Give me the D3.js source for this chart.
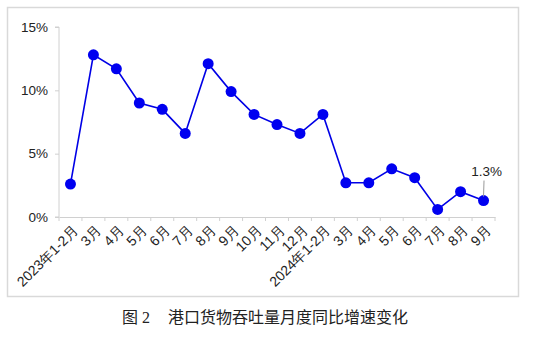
<!DOCTYPE html>
<meta charset="utf-8">
<style>
body { margin: 0; background: #fff; }
svg { display: block; font-family: "Liberation Sans", Arial, sans-serif; }
.axis path, .axis line { stroke: #d0d0d0; }
.axis text { fill: #222; font-size: 13.5px; }
.axis--x text { font-size: 14px; }
.line { fill: none; stroke: #0000e6; stroke-width: 1.6px; }
</style>
<svg width="558" height="347"></svg>
<script src="https://cdn.jsdelivr.net/npm/d3@7"></script>
<script>

var months = ["2023年1-2月", "3月", "4月", "5月", "6月", "7月", "8月", "9月", "10月", "11月", "12月",
              "2024年1-2月", "3月", "4月", "5月", "6月", "7月", "8月", "9月"];
var growth = [2.6, 12.8, 11.7, 9.0, 8.5, 6.6, 12.1, 9.9, 8.1, 7.3, 6.6,
              8.1, 2.7, 2.7, 3.8, 3.1, 0.6, 2.0, 1.3];
var yTicks = [0, 5, 10, 15];
var title = "港口货物吞吐量月度同比增速变化";

var svg = d3.select("svg"),
    margin = {top: 27, right: 63, bottom: 130, left: 59},
    width = 495 - margin.left,
    height = 217 - margin.top,
    g = svg.append("g").attr("transform", "translate(" + margin.left + "," + margin.top + ")");

// outer frame
svg.append("rect")
    .attr("x", 7.5).attr("y", 7.5)
    .attr("width", 511).attr("height", 289)
    .attr("fill", "none")
    .attr("stroke", "#d9d9d9")
    .attr("stroke-width", 1.5);

var data = months.map(function(m, i) { return {key: i, label: m, value: growth[i]}; });

var x = d3.scaleBand().domain(data.map(function(d) { return d.key; })).range([0, width]),
    y = d3.scaleLinear().domain([0, 15]).range([height, 0]);

var xAxis = g.append("g")
    .attr("class", "axis axis--x")
    .attr("transform", "translate(0," + height + ")")
    .call(d3.axisBottom(x).tickSize(0).tickFormat(""));

// tick marks on category boundaries
xAxis.selectAll(".bound")
  .data(d3.range(months.length + 1))
  .enter().append("line")
    .attr("class", "bound")
    .attr("x1", function(i) { return i * x.step(); })
    .attr("x2", function(i) { return i * x.step(); })
    .attr("y1", 0).attr("y2", 4);

xAxis.selectAll(".lab")
  .data(data)
  .enter().append("text")
    .attr("class", "lab")
    .attr("text-anchor", "end")
    .attr("transform", function(d) {
      return "translate(" + (x(d.key) + x.bandwidth() / 2 + 5) + ",11) rotate(-45)";
    })
    .attr("dy", "0.35em")
    .text(function(d) { return d.label; });

g.append("g")
    .attr("class", "axis axis--y")
    .call(d3.axisLeft(y).tickValues(yTicks).tickSize(4).tickPadding(7)
      .tickFormat(function(d) { return d + "%"; }))
  .select(".domain").attr("d", "M-4," + height + "H0V0H-4");

var line = d3.line()
    .x(function(d) { return x(d.key) + x.bandwidth() / 2; })
    .y(function(d) { return y(d.value); });

g.append("path")
    .datum(data)
    .attr("class", "line")
    .attr("d", line);

g.selectAll(".dot")
  .data(data)
  .enter().append("circle")
    .attr("class", "dot")
    .attr("cx", function(d) { return x(d.key) + x.bandwidth() / 2; })
    .attr("cy", function(d) { return y(d.value); })
    .attr("r", 5.5)
    .attr("fill", "#0000f0");

// last value label with leader line
var last = data[data.length - 1],
    lx = x(last.key) + x.bandwidth() / 2,
    ly = y(last.value);

g.append("line")
    .attr("x1", lx + 0.5).attr("y1", ly - 20)
    .attr("x2", lx).attr("y2", ly - 4)
    .attr("stroke", "#999")
    .attr("stroke-width", 1);

g.append("text")
    .attr("x", lx + 3)
    .attr("y", ly - 25)
    .attr("text-anchor", "middle")
    .style("font-size", "13.5px")
    .attr("fill", "#222")
    .text(last.value + "%");

var cap = svg.append("text")
    .attr("x", 122)
    .attr("y", 323)
    .style("font-size", "16px")
    .attr("fill", "#222");
cap.append("tspan").style("font-family", "'Noto Sans CJK SC'").text("图");
cap.append("tspan").style("font-family", "'Liberation Serif', serif").attr("dx", 4).text("2");
cap.append("tspan").style("font-family", "'Noto Sans CJK SC'").attr("dx", 18).text(title);

</script>
